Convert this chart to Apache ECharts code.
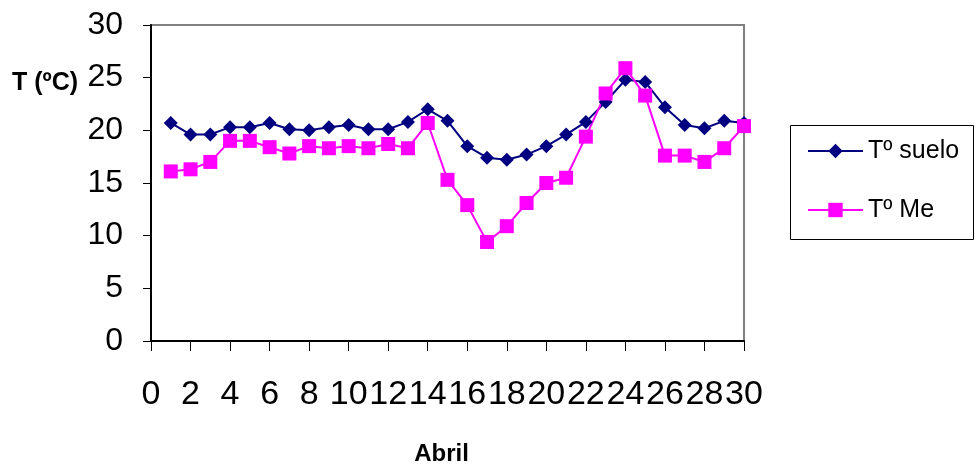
<!DOCTYPE html>
<html>
<head>
<meta charset="utf-8">
<script src="https://cdn.jsdelivr.net/npm/echarts@6/dist/echarts.min.js"></script>
<style>
html,body{margin:0;padding:0;background:#fff;}
#chart{width:975px;height:464px;}
</style>
</head>
<body>
<div id="chart"></div>
<script>
var days = [1,2,3,4,5,6,7,8,9,10,11,12,13,14,15,16,17,18,19,20,21,22,23,24,25,26,27,28,29,30];
var tSuelo = [20.7,19.6,19.6,20.3,20.3,20.7,20.1,20.0,20.3,20.5,20.1,20.1,20.8,22.0,20.9,18.5,17.4,17.2,17.7,18.5,19.6,20.8,22.7,24.8,24.6,22.2,20.5,20.2,20.9,20.7];
var tMe = [16.1,16.3,17.0,19.0,19.0,18.4,17.8,18.5,18.3,18.5,18.3,18.7,18.3,20.7,15.3,12.9,9.4,10.9,13.1,15.0,15.5,19.4,23.5,25.9,23.3,17.6,17.6,17.0,18.3,20.4];
var seriesNames = ['T\u00BA suelo', 'T\u00BA Me'];
var xTitle = 'Abril';
var yTitle = 'T (\u00BAC)';

function pairs(vals){ return days.map(function(d,i){ return [d, vals[i]]; }); }

var chart = echarts.init(document.getElementById('chart'), null, {renderer:'canvas'});
var font = 'Liberation Sans, Arial, sans-serif';
chart.setOption({
  animation: false,
  backgroundColor: '#ffffff',
  grid: {left:151, top:25, right:231, bottom:123, containLabel:false, outerBoundsMode:'none',
         show:true, borderColor:'#808080', borderWidth:2, backgroundColor:'#ffffff'},
  xAxis: {
    type:'value', min:0, max:30, interval:2,
    name: xTitle, nameLocation:'middle', nameGap:101,
    nameTextStyle:{fontFamily:font, fontSize:24, fontWeight:'bold', color:'#000', padding:[0,12,0,0]},
    axisLine:{show:true, onZero:false, lineStyle:{color:'#000', width:2}},
    axisTick:{show:true, inside:false, length:10, lineStyle:{color:'#000', width:1}},
    axisLabel:{fontFamily:font, fontSize:34, color:'#000', margin:37},
    splitLine:{show:false}
  },
  yAxis: {
    type:'value', min:0, max:30, interval:5,
    axisLine:{show:true, lineStyle:{color:'#000', width:2}},
    axisTick:{show:true, inside:false, length:8, lineStyle:{color:'#000', width:1}},
    axisLabel:{fontFamily:font, fontSize:32, color:'#000', margin:28},
    splitLine:{show:false}
  },
  graphic: [
    {type:'rect', left:790, top:125, z:0, shape:{width:183, height:114}, style:{fill:'#fff', stroke:'#000', lineWidth:1}},
    {type:'text', left:12, top:71, z:10, style:{text:yTitle, font:'bold 25px Liberation Sans, Arial, sans-serif', fill:'#000'}}
  ],
  legend: {
    orient:'vertical', left:802, top:131, z:10,
    itemWidth:55, itemHeight:18, itemGap:29,
    textStyle:{fontFamily:font, fontSize:25, color:'#000', lineHeight:30},
    data: seriesNames
  },
  series: [
    {name:seriesNames[0], type:'line', data:pairs(tSuelo), symbol:'diamond', symbolSize:14,
     itemStyle:{color:'#000080'}, lineStyle:{color:'#000080', width:2}},
    {name:seriesNames[1], type:'line', data:pairs(tMe), symbol:'rect', symbolSize:14,
     itemStyle:{color:'#FF00FF'}, lineStyle:{color:'#FF00FF', width:2}}
  ]
});
</script>
</body>
</html>
